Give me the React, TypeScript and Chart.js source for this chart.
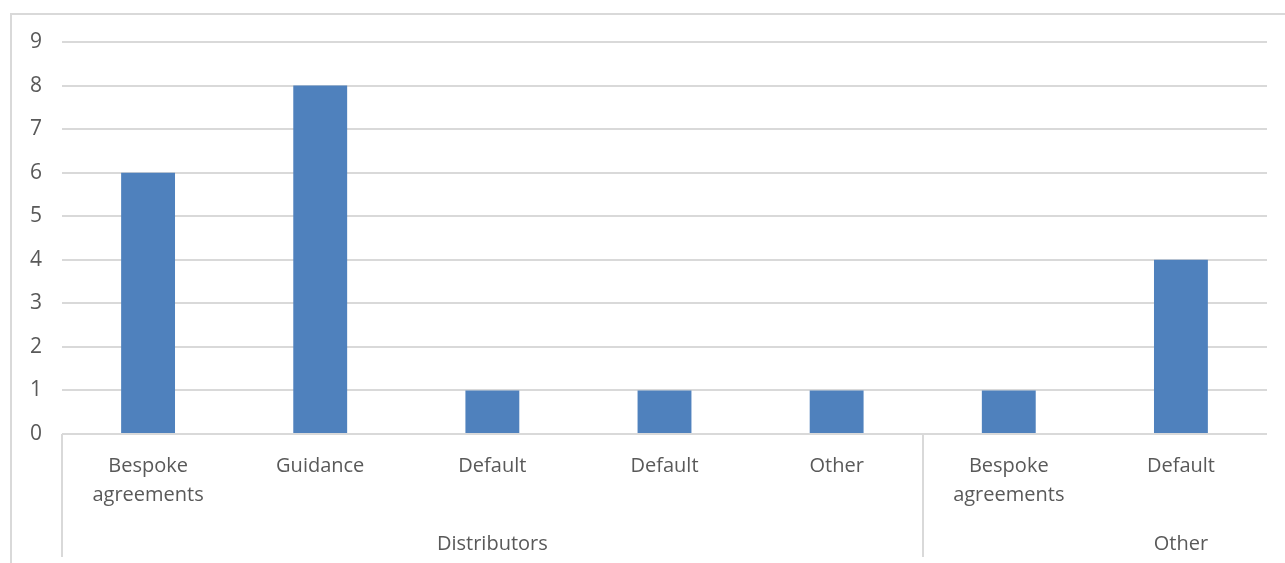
import React, { useEffect, useRef } from "react";
import { Chart, registerables } from "chart.js";

Chart.register(...registerables);

const categoryLabels: string[][] = [
  ["Bespoke", "agreements"],
  ["Guidance"],
  ["Default"],
  ["Default"],
  ["Other"],
  ["Bespoke", "agreements"],
  ["Default"],
];
const values: number[] = [6, 8, 1, 1, 1, 1, 4];
const groupNames: string[] = ["Distributors", "Other"];
const groupStarts: number[] = [0, 5];
const groupLabelAnchors: number[] = [2, 6];
const yMin = 0;
const yMax = 9;

const FONT = "'Open Sans', sans-serif";
const TEXT = "#595959";
const GRID = "#D9D9D9";
const BAR = "#4F81BD";

export default function App() {
  const ref = useRef<HTMLCanvasElement | null>(null);

  useEffect(() => {
    const canvas = ref.current;
    if (!canvas) return;

    const decorations = {
      id: "decorations",
      beforeDraw(chart: any) {
        const ctx = chart.ctx;
        ctx.save();
        ctx.strokeStyle = GRID;
        ctx.lineWidth = 2;
        ctx.beginPath();
        ctx.moveTo(11, chart.height);
        ctx.lineTo(11, 14);
        ctx.lineTo(chart.width, 14);
        ctx.stroke();
        ctx.restore();
      },
      afterDraw(chart: any) {
        const ctx = chart.ctx;
        const x = chart.scales.x;
        const area = chart.chartArea;
        const step = x.getPixelForValue(1) - x.getPixelForValue(0);
        ctx.save();
        // group separators
        ctx.strokeStyle = GRID;
        ctx.lineWidth = 2;
        const sepBottom = area.bottom + 123;
        groupStarts.forEach((s) => {
          const px = Math.round(x.getPixelForValue(0) + (s - 0.5) * step);
          ctx.beginPath();
          ctx.moveTo(px, area.bottom);
          ctx.lineTo(px, sepBottom);
          ctx.stroke();
        });
        // category labels
        ctx.fillStyle = TEXT;
        ctx.font = `20px ${FONT}`;
        ctx.textAlign = "center";
        ctx.textBaseline = "middle";
        categoryLabels.forEach((lines, i) => {
          const cx = x.getPixelForValue(i);
          lines.forEach((ln, j) => {
            ctx.fillText(ln, cx, area.bottom + 32 + j * 29);
          });
        });
        // group labels
        groupNames.forEach((g, k) => {
          const cx = x.getPixelForValue(0) + groupLabelAnchors[k] * step;
          ctx.fillText(g, cx, area.bottom + 110);
        });
        ctx.restore();
      },
    };

    const chart = new Chart(canvas, {
      type: "bar",
      data: {
        labels: categoryLabels.map((l) => l.join(" ")),
        datasets: [
          {
            data: values,
            backgroundColor: BAR,
            borderWidth: 0,
            barPercentage: 0.313,
            categoryPercentage: 1,
          },
        ],
      },
      options: {
        animation: false,
        responsive: false,
        devicePixelRatio: 1,
        layout: { padding: { top: 42, right: 18, left: 0, bottom: 0 } },
        plugins: {
          legend: { display: false },
          tooltip: { enabled: false },
        },
        scales: {
          x: {
            grid: { display: false, drawTicks: false },
            border: { display: false },
            ticks: { display: false },
            afterFit: (scale: any) => {
              scale.height = 129;
            },
          },
          y: {
            min: yMin,
            max: yMax,
            grid: { color: GRID, lineWidth: 2, drawTicks: false },
            border: { display: false },
            ticks: {
              stepSize: 1,
              color: TEXT,
              padding: 20,
              font: { family: FONT, size: 21 },
            },
            afterFit: (scale: any) => {
              scale.width = 62;
            },
          },
        },
      },
      plugins: [decorations],
    });

    return () => chart.destroy();
  }, []);

  return (
    <div style={{ position: "absolute", left: 0, top: 0, width: 1285, height: 563, background: "#fff" }}>
      <canvas ref={ref} width={1285} height={563} style={{ width: 1285, height: 563, display: "block" }} />
    </div>
  );
}
